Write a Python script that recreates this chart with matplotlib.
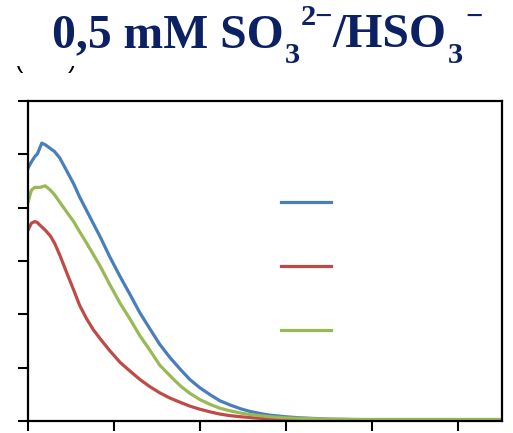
import matplotlib
matplotlib.use("Agg")
import matplotlib.pyplot as plt
from matplotlib.transforms import Bbox, TransformedBbox

# Shared sampling grid (axis units; one tick = 1)
x = [0, 0.04, 0.08, 0.11, 0.14, 0.16, 0.2, 0.26, 0.31, 0.37, 0.45, 0.53, 0.6,
     0.68, 0.76, 0.84, 0.95, 1.07, 1.19, 1.3, 1.42, 1.53, 1.65, 1.77, 1.88,
     2.0, 2.12, 2.23, 2.35, 2.47, 2.58, 2.7, 2.81, 2.99, 3.16, 3.5, 3.86, 4.33,
     4.9, 5.51]

blue = [4.74, 4.86, 4.96, 5.01, 5.13, 5.21, 5.18, 5.11, 5.05, 4.93, 4.69, 4.45,
        4.20, 3.95, 3.70, 3.45, 3.08, 2.71, 2.36, 2.03, 1.72, 1.44, 1.19, 0.97,
        0.78, 0.62, 0.49, 0.38, 0.30, 0.23, 0.18, 0.14, 0.11, 0.08, 0.06, 0.035,
        0.025, 0.02, 0.02, 0.02]

red = [3.58, 3.71, 3.74, 3.72, 3.67, 3.64, 3.58, 3.47, 3.33, 3.11, 2.78, 2.46,
       2.17, 1.92, 1.71, 1.54, 1.32, 1.10, 0.93, 0.78, 0.64, 0.53, 0.43, 0.35,
       0.28, 0.22, 0.17, 0.13, 0.10, 0.08, 0.065, 0.05, 0.04, 0.03, 0.025, 0.02,
       0.02, 0.02, 0.02, 0.02]

green = [4.10, 4.33, 4.38, 4.38, 4.38, 4.39, 4.41, 4.33, 4.24, 4.10, 3.92, 3.74,
         3.55, 3.34, 3.12, 2.90, 2.56, 2.21, 1.90, 1.60, 1.32, 1.05, 0.85, 0.66,
         0.52, 0.40, 0.31, 0.24, 0.19, 0.15, 0.12, 0.10, 0.08, 0.06, 0.05, 0.035,
         0.03, 0.03, 0.03, 0.03]

x_ticks = [0, 1, 2, 3, 4, 5]
y_ticks = [0, 1, 2, 3, 4, 5, 6]

series = [(blue, "#4A7EBB"), (red, "#BE4B48"), (green, "#98B954")]

MINUS = "\u2212"
# title pieces: text, relative size, baseline shift in pixels
title_parts = [("0,5 mM SO", 1.0, 0), ("3", 0.64, -16), ("2" + MINUS, 0.64, 22),
               ("/HSO", 1.0, 0), ("3", 0.64, -16), (MINUS, 0.64, 22)]

W, H = 513, 433
fig = plt.figure(figsize=(W / 100, H / 100), dpi=100)
ax = fig.add_axes([28 / W, 12 / H, 474 / W, 320 / H])

handles = []
for vals, col in series:
    ln, = ax.plot(x, vals, color=col, lw=2.3, solid_joinstyle="round")
    handles.append(ln)

ax.set_xlim(0, 5.51)
ax.set_ylim(0, 6)
ax.set_xticks(x_ticks)
ax.set_yticks(y_ticks)
ax.set_xticklabels([])
ax.set_yticklabels([])
ax.tick_params(direction="out", length=7, width=1.5, color="black")
for sp in ax.spines.values():
    sp.set_linewidth(1.6)
    sp.set_color("black")

ax.legend(handles, [" ", " ", " "], loc="upper left",
          bbox_to_anchor=(0.534, 0.703), frameon=False, borderpad=0,
          borderaxespad=0, handletextpad=0, handlelength=3.6,
          labelspacing=3.6, fontsize=10)

# Title: lay the pieces out one after another along a common baseline
renderer = fig.canvas.get_renderer()
base_size = 34.3
baseline = H - 47
texts = []
for s, scale, shift in title_parts:
    t = fig.text(0, (baseline + shift) / H, s, ha="left", va="baseline",
                 fontsize=base_size * scale, fontweight="bold",
                 family="Liberation Serif", color="#0B2163")
    texts.append(t)
widths = [t.get_window_extent(renderer).width for t in texts]
gaps = [1, 1, 0, 1, 2]
total = sum(widths) + sum(gaps)
cur = 267 - total / 2
for i, (t, w) in enumerate(zip(texts, widths)):
    t.set_x(cur / W)
    cur += w + (gaps[i] if i < len(gaps) else 0)

# Panel label brackets, only their lower ends show beneath the title block
clip = TransformedBbox(Bbox([[0, 0], [1, (H - 66) / H]]), fig.transFigure)
for px, s in [(14, "("), (68, ")")]:
    lbl = fig.text(px / W, 1 - 68 / H, s, ha="left", va="baseline",
                   fontsize=18, family="Liberation Sans", color="black")
    lbl.set_clip_box(clip)
    lbl.set_clip_on(True)

fig.savefig("out.png", dpi=100)
